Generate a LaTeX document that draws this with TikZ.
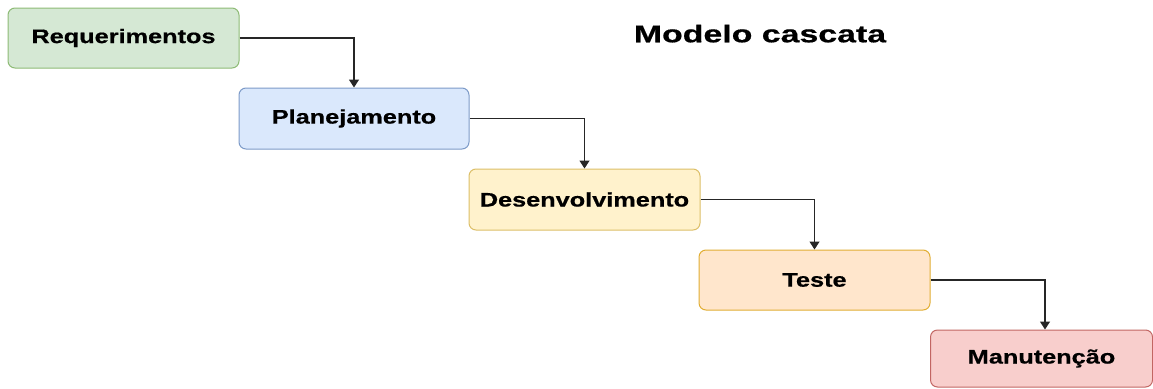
\documentclass[tikz,border=0pt]{standalone}
\usepackage{fontspec}
\usetikzlibrary{arrows.meta}
\newfontfamily\lblfont{Liberation Sans}[FakeStretch=1.29,FakeBold=0.6]
\newfontfamily\ttlfont{Liberation Sans}[FakeStretch=1.40,FakeBold=0.6]
\definecolor{gfill}{HTML}{D5E8D4}\definecolor{gline}{HTML}{82B366}
\definecolor{bfill}{HTML}{DAE8FC}\definecolor{bline}{HTML}{6C8EBF}
\definecolor{yfill}{HTML}{FFF2CC}\definecolor{yline}{HTML}{D6B656}
\definecolor{ofill}{HTML}{FFE6CC}\definecolor{oline}{HTML}{D79B00}
\definecolor{rfill}{HTML}{F8CECC}\definecolor{rline}{HTML}{B85450}
\tikzset{
  phase/.style={draw, line width=1pt, rounded corners=7pt, inner sep=0pt,
    font=\lblfont\bfseries\fontsize{19.6}{24}\selectfont, text=black},
  flow/.style={draw=black!85, line width=1.2pt, -{Triangle[length=8pt,width=10pt]}}
}
\begin{document}
\begin{tikzpicture}[x=1pt,y=-1pt]
\useasboundingbox (0,0) rectangle (1153,388);
\fill[white] (0,0) rectangle (1153,388);
\node[phase, fill=gfill, draw=gline!85!gfill, minimum width=231pt, minimum height=60pt] (b1) at (123.5,38) {Requerimentos};
\node[phase, fill=bfill, draw=bline!85!bfill, minimum width=230pt, minimum height=61pt] (b2) at (354,118.5) {Planejamento};
\node[phase, fill=yfill, draw=yline!85!yfill, minimum width=231pt, minimum height=61pt] (b3) at (584.5,199.5) {Desenvolvimento};
\node[phase, fill=ofill, draw=oline!75!ofill, minimum width=231pt, minimum height=60pt] (b4) at (814.5,280) {Teste};
\node[phase, fill=rfill, draw=rline!85!rfill, minimum width=222pt, minimum height=57pt] (b5) at (1041.5,358.5) {Manutenção};
\node[font=\ttlfont\bfseries\fontsize{24.2}{29}\selectfont, anchor=base] (title) at (760,42.3) {Modelo cascata};
\draw[flow] (b1.east) -| (b2.north);
\draw[flow] (b2.east) -| (b3.north);
\draw[flow] (b3.east) -| (b4.north);
\draw[flow] (b4.east) -| ([xshift=3.5pt]b5.north);
\end{tikzpicture}
\end{document}
